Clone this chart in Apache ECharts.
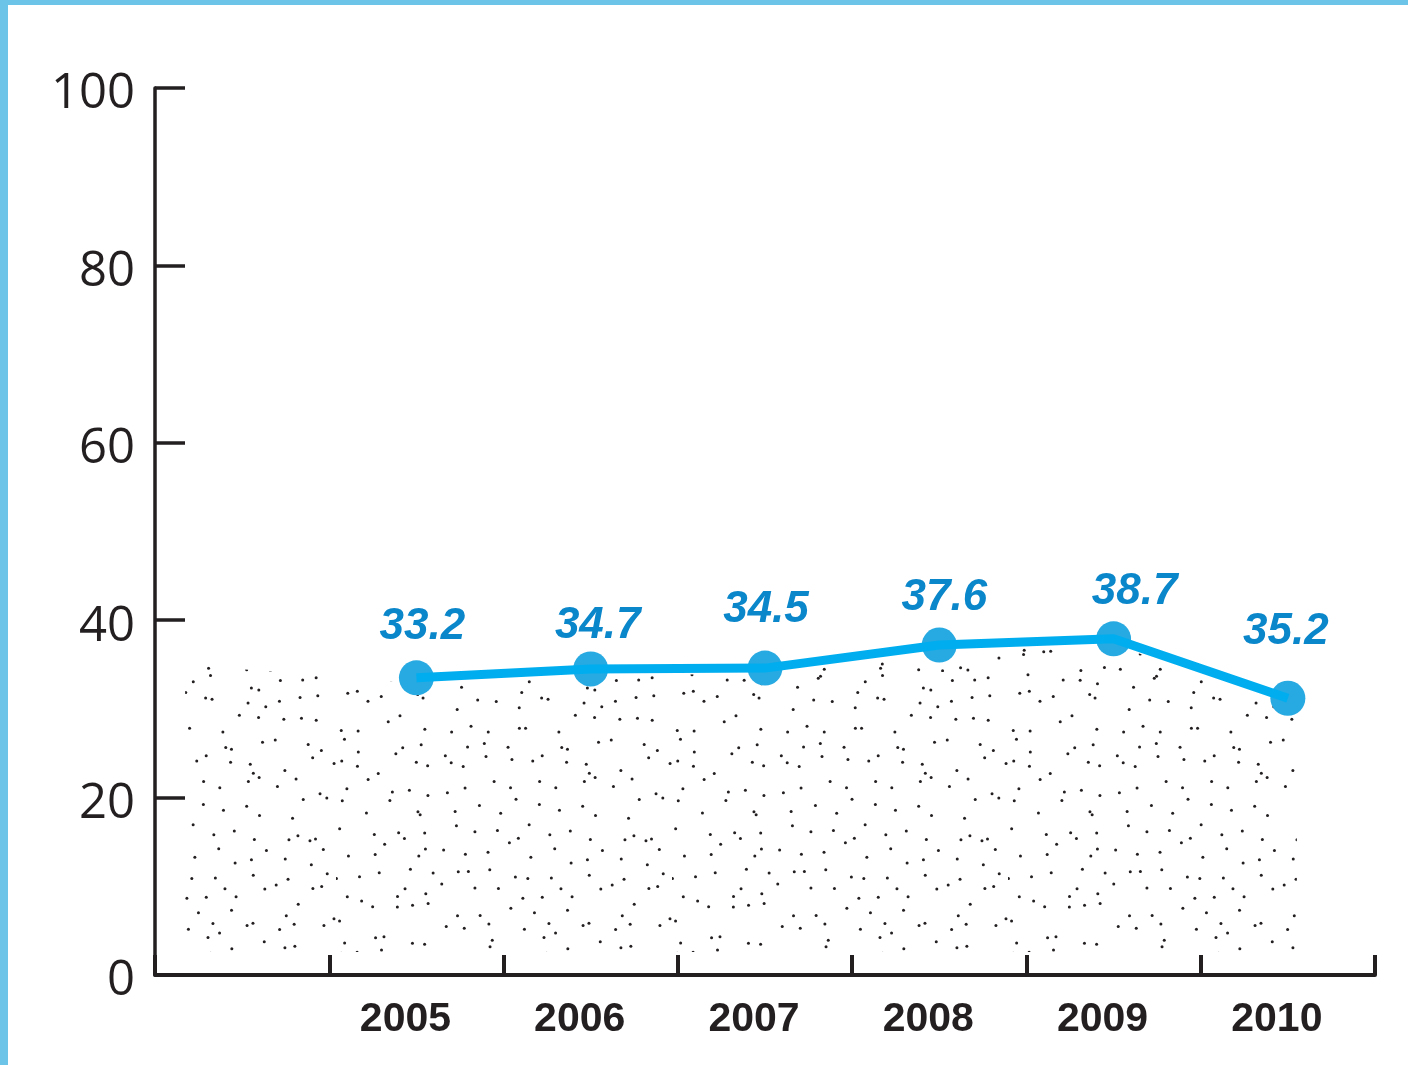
<!DOCTYPE html>
<html>
<head>
<meta charset="utf-8">
<script src="https://cdn.jsdelivr.net/npm/echarts@6/dist/echarts.min.js"></script>
<style>
html,body{margin:0;padding:0;background:#fff;}
#frame{position:absolute;left:0;top:0;width:1408px;height:1065px;box-sizing:border-box;border-left:8px solid #6CC5E9;border-top:5px solid #6CC5E9;pointer-events:none;}
#chart{position:absolute;left:0;top:0;width:1408px;height:1065px;}
</style>
</head>
<body>
<div id="chart"></div>
<div id="frame"></div>
<script>
// ---- data ----
const categories = ['', '2005', '2006', '2007', '2008', '2009', '2010'];
const plottedValues = [null, 33.5, 34.5, 34.6, 37.2, 37.9, 31.2];
const labelTexts = ['', '33.2', '34.7', '34.5', '37.6', '38.7', '35.2'];
const yTicks = [0, 20, 40, 60, 80, 100];

// label offsets (style only): [dx, dy] in px relative to point
const labelOffsets = [[0,0],[6,-51],[7,-43],[1,-58],[5,-47],[21,-47],[-2,-66]];

const chart = echarts.init(document.getElementById('chart'), null, {renderer:'canvas'});

// stipple pattern (decorative texture)
function makeStipple(){
  const W = 336;
  const c = document.createElement('canvas');
  c.width = W; c.height = W;
  const ctx = c.getContext('2d');
  ctx.fillStyle = '#231F20';
  let a = 987654321;
  function rnd(){
    a |= 0; a = a + 0x6D2B79F5 | 0;
    let t = Math.imul(a ^ a >>> 15, 1 | a);
    t = t + Math.imul(t ^ t >>> 7, 61 | t) ^ t;
    return ((t ^ t >>> 14) >>> 0) / 4294967296;
  }
  const step = 21;
  for (let gy = 0; gy < W; gy += step) {
    for (let gx = 0; gx < W; gx += step) {
      const x = (gx + rnd() * step) % W, y = (gy + rnd() * step) % W;
      ctx.beginPath(); ctx.arc(x, y, 1.5, 0, Math.PI*2); ctx.fill();
    }
  }
  return c;
}
const stipple = makeStipple();

const axisColor = '#231F20';

const option = {
  animation: false,
  grid: {left: 155, right: 33, top: 88, bottom: 90, containLabel: false},
  xAxis: {
    type: 'category',
    data: categories,
    boundaryGap: true,
    axisLine: {show: true, lineStyle: {color: axisColor, width: 4}},
    axisTick: {show: true, inside: true, length: 20, lineStyle: {color: axisColor, width: 4}},
    axisLabel: {
      color: axisColor, fontFamily: 'Liberation Sans, Arial', fontWeight: 'bold', fontSize: 41,
      margin: 24, padding: [0, 22, 0, 0]
    },
    splitLine: {show: false}
  },
  yAxis: {
    type: 'value', min: 0, max: 100, interval: 20,
    axisLine: {show: true, lineStyle: {color: axisColor, width: 3.5}},
    axisTick: {show: true, inside: true, length: 30, lineStyle: {color: axisColor, width: 3.5}},
    axisLabel: {
      margin: 20,
      formatter: v => yTicks.indexOf(v) >= 0 ? '{t|' + v + '}' : '',
      rich: {t: {color: axisColor, fontFamily: 'Open Sans, Noto Sans', fontSize: 49, padding: [13, 0, 0, 0]}}
    },
    splitLine: {show: false}
  },
  series: [
    {
      type: 'scatter', data: plottedValues, symbol: 'circle', symbolSize: 35, z: 2,
      itemStyle: {color: '#27A9E1', opacity: 1},
      emphasis: {disabled: true},
      label: {
        show: true,
        formatter: p => labelTexts[p.dataIndex],
        position: 'inside', opacity: 1,
        color: '#0A86CA', fontFamily: 'Liberation Sans, Arial', fontWeight: 'bold', fontStyle: 'italic', fontSize: 44
      },
      labelLayout: function(params){
        const o = labelOffsets[params.dataIndex] || [0,0];
        return {dx: o[0], dy: o[1]};
      }
    },
    {
      type: 'line', data: plottedValues, showSymbol: false, z: 3,
      lineStyle: {color: '#00AEEF', width: 9}, connectNulls: false,
      emphasis: {disabled: true}
    }
  ]
};
chart.setOption(option);

// stipple polygon under the line (decoration), positioned via the axes
function px(cat, val){ return chart.convertToPixel({gridIndex:0}, [cat, val]); }
const topPts = [];
const left = px(0, 0)[0] - 57, right = px(6, 0)[0] + 9;
const bottomY = px(0, 2.6)[1];
topPts.push([left, px(0, 35)[1]]);
for (let i = 1; i < categories.length; i++) {
  const p = px(i, plottedValues[i]);
  topPts.push([p[0], p[1] + 6]);
}
topPts.push([right, px(6, plottedValues[6])[1] + 6]);
const poly = topPts.concat([[right, bottomY], [left, bottomY]]);
chart.setOption({
  graphic: [{
    type: 'polygon', z: 1, silent: true,
    shape: {points: poly},
    style: {fill: {image: stipple, repeat: 'repeat'}}
  }]
});
</script>
</body>
</html>
